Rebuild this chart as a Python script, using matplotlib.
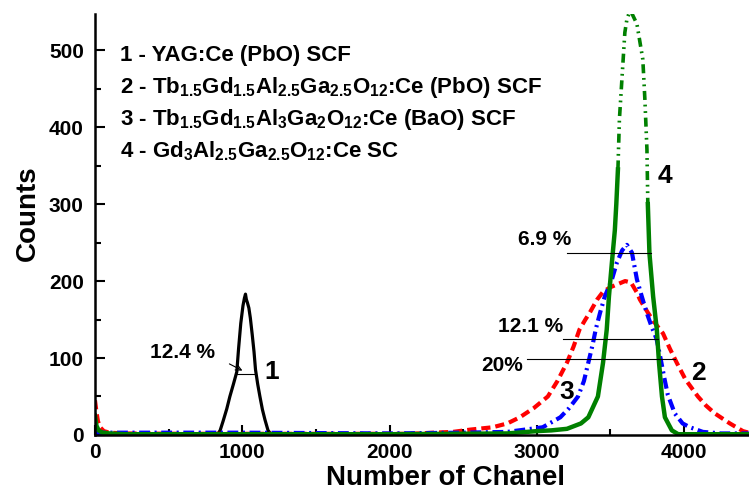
import numpy as np
import matplotlib
matplotlib.use("Agg")
import matplotlib.pyplot as plt

plt.rcParams['font.family'] = ['Liberation Sans', 'DejaVu Sans']
plt.rcParams['font.weight'] = 'bold'
plt.rcParams['mathtext.fontset'] = 'custom'
plt.rcParams['mathtext.rm'] = 'Liberation Sans:bold'
plt.rcParams['mathtext.it'] = 'Liberation Sans:bold'
plt.rcParams['mathtext.bf'] = 'Liberation Sans:bold'

## curve 1 - YAG:Ce (black)
x1 = [830, 850, 870, 895, 916, 940, 963, 975, 990, 1005, 1015, 1022, 1028, 1035,
      1045, 1055, 1068, 1080, 1090, 1105, 1120, 1137, 1154, 1175, 1195]
y1 = [0, 6, 18, 34, 50, 66, 82, 112, 145, 168, 178, 183, 176, 172,
      165, 152, 130, 108, 85, 66, 50, 33, 20, 6, 1]

## curve 2 - TbGdAlGaO (PbO) (red)
x2 = [0, 10, 20, 35, 60, 100, 200, 600, 1000, 1500, 2100, 2200, 2300, 2430, 2550,
      2700, 2800, 2885, 2980, 3075, 3140, 3205, 3250, 3290, 3330, 3360, 3410, 3450,
      3500, 3550, 3600, 3640, 3680, 3700, 3754, 3800, 3857, 3904, 3950, 4010, 4094,
      4150, 4209, 4311, 4400, 4440]
y2 = [45, 30, 18, 10, 5, 3, 2, 1.5, 1.5, 1.5, 1.5, 2, 3, 4, 7,
      10, 15, 23, 35, 50, 70, 94, 115, 137, 150, 159, 176, 186,
      192, 196, 200, 198, 185, 176, 159, 146, 132, 112, 94, 72, 50,
      38, 28, 15, 5, 3]

## curve 3 - TbGdAl3Ga2O (BaO) (blue)
x3 = [0, 100, 500, 1000, 2000, 2500, 2800, 3040, 3160, 3220, 3280, 3320, 3350, 3380,
      3400, 3430, 3462, 3510, 3544, 3580, 3612, 3646, 3680, 3713, 3746, 3781, 3813,
      3840, 3865, 3890, 3937, 3990, 4040, 4128, 4250, 4440]
y3 = [3, 3, 3, 3, 2, 3, 4, 10, 23, 35, 50, 70, 94, 118,
      137, 159, 180, 202, 224, 240, 247, 237, 202, 180, 159, 140, 125,
      100, 75, 52, 28, 15, 10, 4, 2, 2]

## curve 4 - GdAlGaO SC (green)
x4 = [0, 10, 25, 50, 100, 200, 1000, 2000, 2800, 3000, 3100, 3205, 3300, 3350, 3415,
      3450, 3475, 3490, 3510, 3530, 3540, 3551, 3561, 3578, 3598, 3612, 3625, 3640,
      3660, 3680, 3720, 3734, 3748, 3754, 3765, 3790, 3815, 3830, 3850, 3870, 3917,
      3960, 4440]
y4 = [25, 12, 6, 3, 2, 1, 1, 1, 2, 5, 6, 8, 15, 23, 50,
      94, 137, 180, 224, 266, 300, 345, 410, 462, 523, 540, 547, 550,
      542, 534, 488, 436, 371, 300, 236, 180, 137, 94, 50, 23, 6,
      1, 1]

legend_lines = [
    "1 - YAG:Ce (PbO) SCF",
    "2 - Tb$_{1.5}$Gd$_{1.5}$Al$_{2.5}$Ga$_{2.5}$O$_{12}$:Ce (PbO) SCF",
    "3 - Tb$_{1.5}$Gd$_{1.5}$Al$_{3}$Ga$_{2}$O$_{12}$:Ce (BaO) SCF",
    "4 - Gd$_{3}$Al$_{2.5}$Ga$_{2.5}$O$_{12}$:Ce SC",
]

fig = plt.figure(figsize=(7.49, 4.92), dpi=100)
ax = fig.add_axes([0.1268, 0.1159, 0.8732, 0.8557])

ax.plot(x1, y1, color='black', lw=2.3)
ax.plot(x2, y2, color='red', lw=3, linestyle=(0, (2.2, 1.2)))
ax.plot(x3, y3, color='blue', lw=3, linestyle=(0, (2.6, 1.1, 0.5, 1.1)))

gx = np.array(x4, dtype=float)
gy = np.array(y4, dtype=float)
solid = ((gy <= 345) & (gx < 3600)) | ((gy <= 300) & (gx > 3600))
ax.plot(gx, np.where(solid, gy, np.nan), color='green', lw=3.2)
top = ~solid
top[np.argmax(top) - 1] = True
top[len(top) - np.argmax(top[::-1])] = True
ax.plot(gx[top], gy[top], color='green', lw=2.6,
        linestyle=(0, (2.5, 1.3, 0.5, 1.3, 0.5, 1.3)))

# FWHM marks
ax.plot([3204, 3775], [236, 236], color='black', lw=0.8)
ax.plot([3177, 3822], [125, 125], color='black', lw=0.8)
ax.plot([2933, 3937], [99, 99], color='black', lw=0.8)
ax.plot([964, 1086], [79, 79], color='black', lw=0.8)
ax.annotate("", xy=(1018, 82), xytext=(896, 94),
            arrowprops=dict(arrowstyle='->', color='black', lw=0.8))

ax.text(3050, 254, "6.9 %", fontsize=15, ha='center', va='center')
ax.text(2960, 141, "12.1 %", fontsize=15, ha='center', va='center')
ax.text(2765, 90, "20%", fontsize=15, ha='center', va='center')
ax.text(597, 107, "12.4 %", fontsize=15, ha='center', va='center')

ax.text(1202, 82, "1", fontsize=19, ha='center', va='center')
ax.text(4100, 80, "2", fontsize=19, ha='center', va='center')
ax.text(3204, 56, "3", fontsize=19, ha='center', va='center')
ax.text(3870, 336, "4", fontsize=19, ha='center', va='center')

for i, s in enumerate(legend_lines):
    fig.text(120 / 749, 1 - (56 + i * 31.7) / 492, s, fontsize=16,
             ha='left', va='center')

ax.set_xlim(0, 4441)
ax.set_ylim(0, 547)
ax.set_xticks([0, 1000, 2000, 3000, 4000])
ax.set_xticks([500, 1500, 2500, 3500], minor=True)
ax.set_yticks([0, 100, 200, 300, 400, 500])
ax.set_yticks([50, 150, 250, 350, 450], minor=True)
ax.tick_params(which='both', direction='in', width=1.5, labelsize=15)
ax.tick_params(which='major', length=7)
ax.tick_params(which='minor', length=4)
ax.tick_params(axis='y', pad=8)
ax.tick_params(axis='x', pad=6)
for s in ['top', 'right']:
    ax.spines[s].set_visible(False)
for s in ['left', 'bottom']:
    ax.spines[s].set_linewidth(1.8)

fig.text(446 / 749, 1 - 478 / 492, "Number of Chanel", fontsize=20,
         ha='center', va='center')
fig.text(28 / 749, 1 - 213 / 492, "Counts", fontsize=20, rotation=90,
         ha='center', va='center')

fig.savefig("out.png", dpi=100)
